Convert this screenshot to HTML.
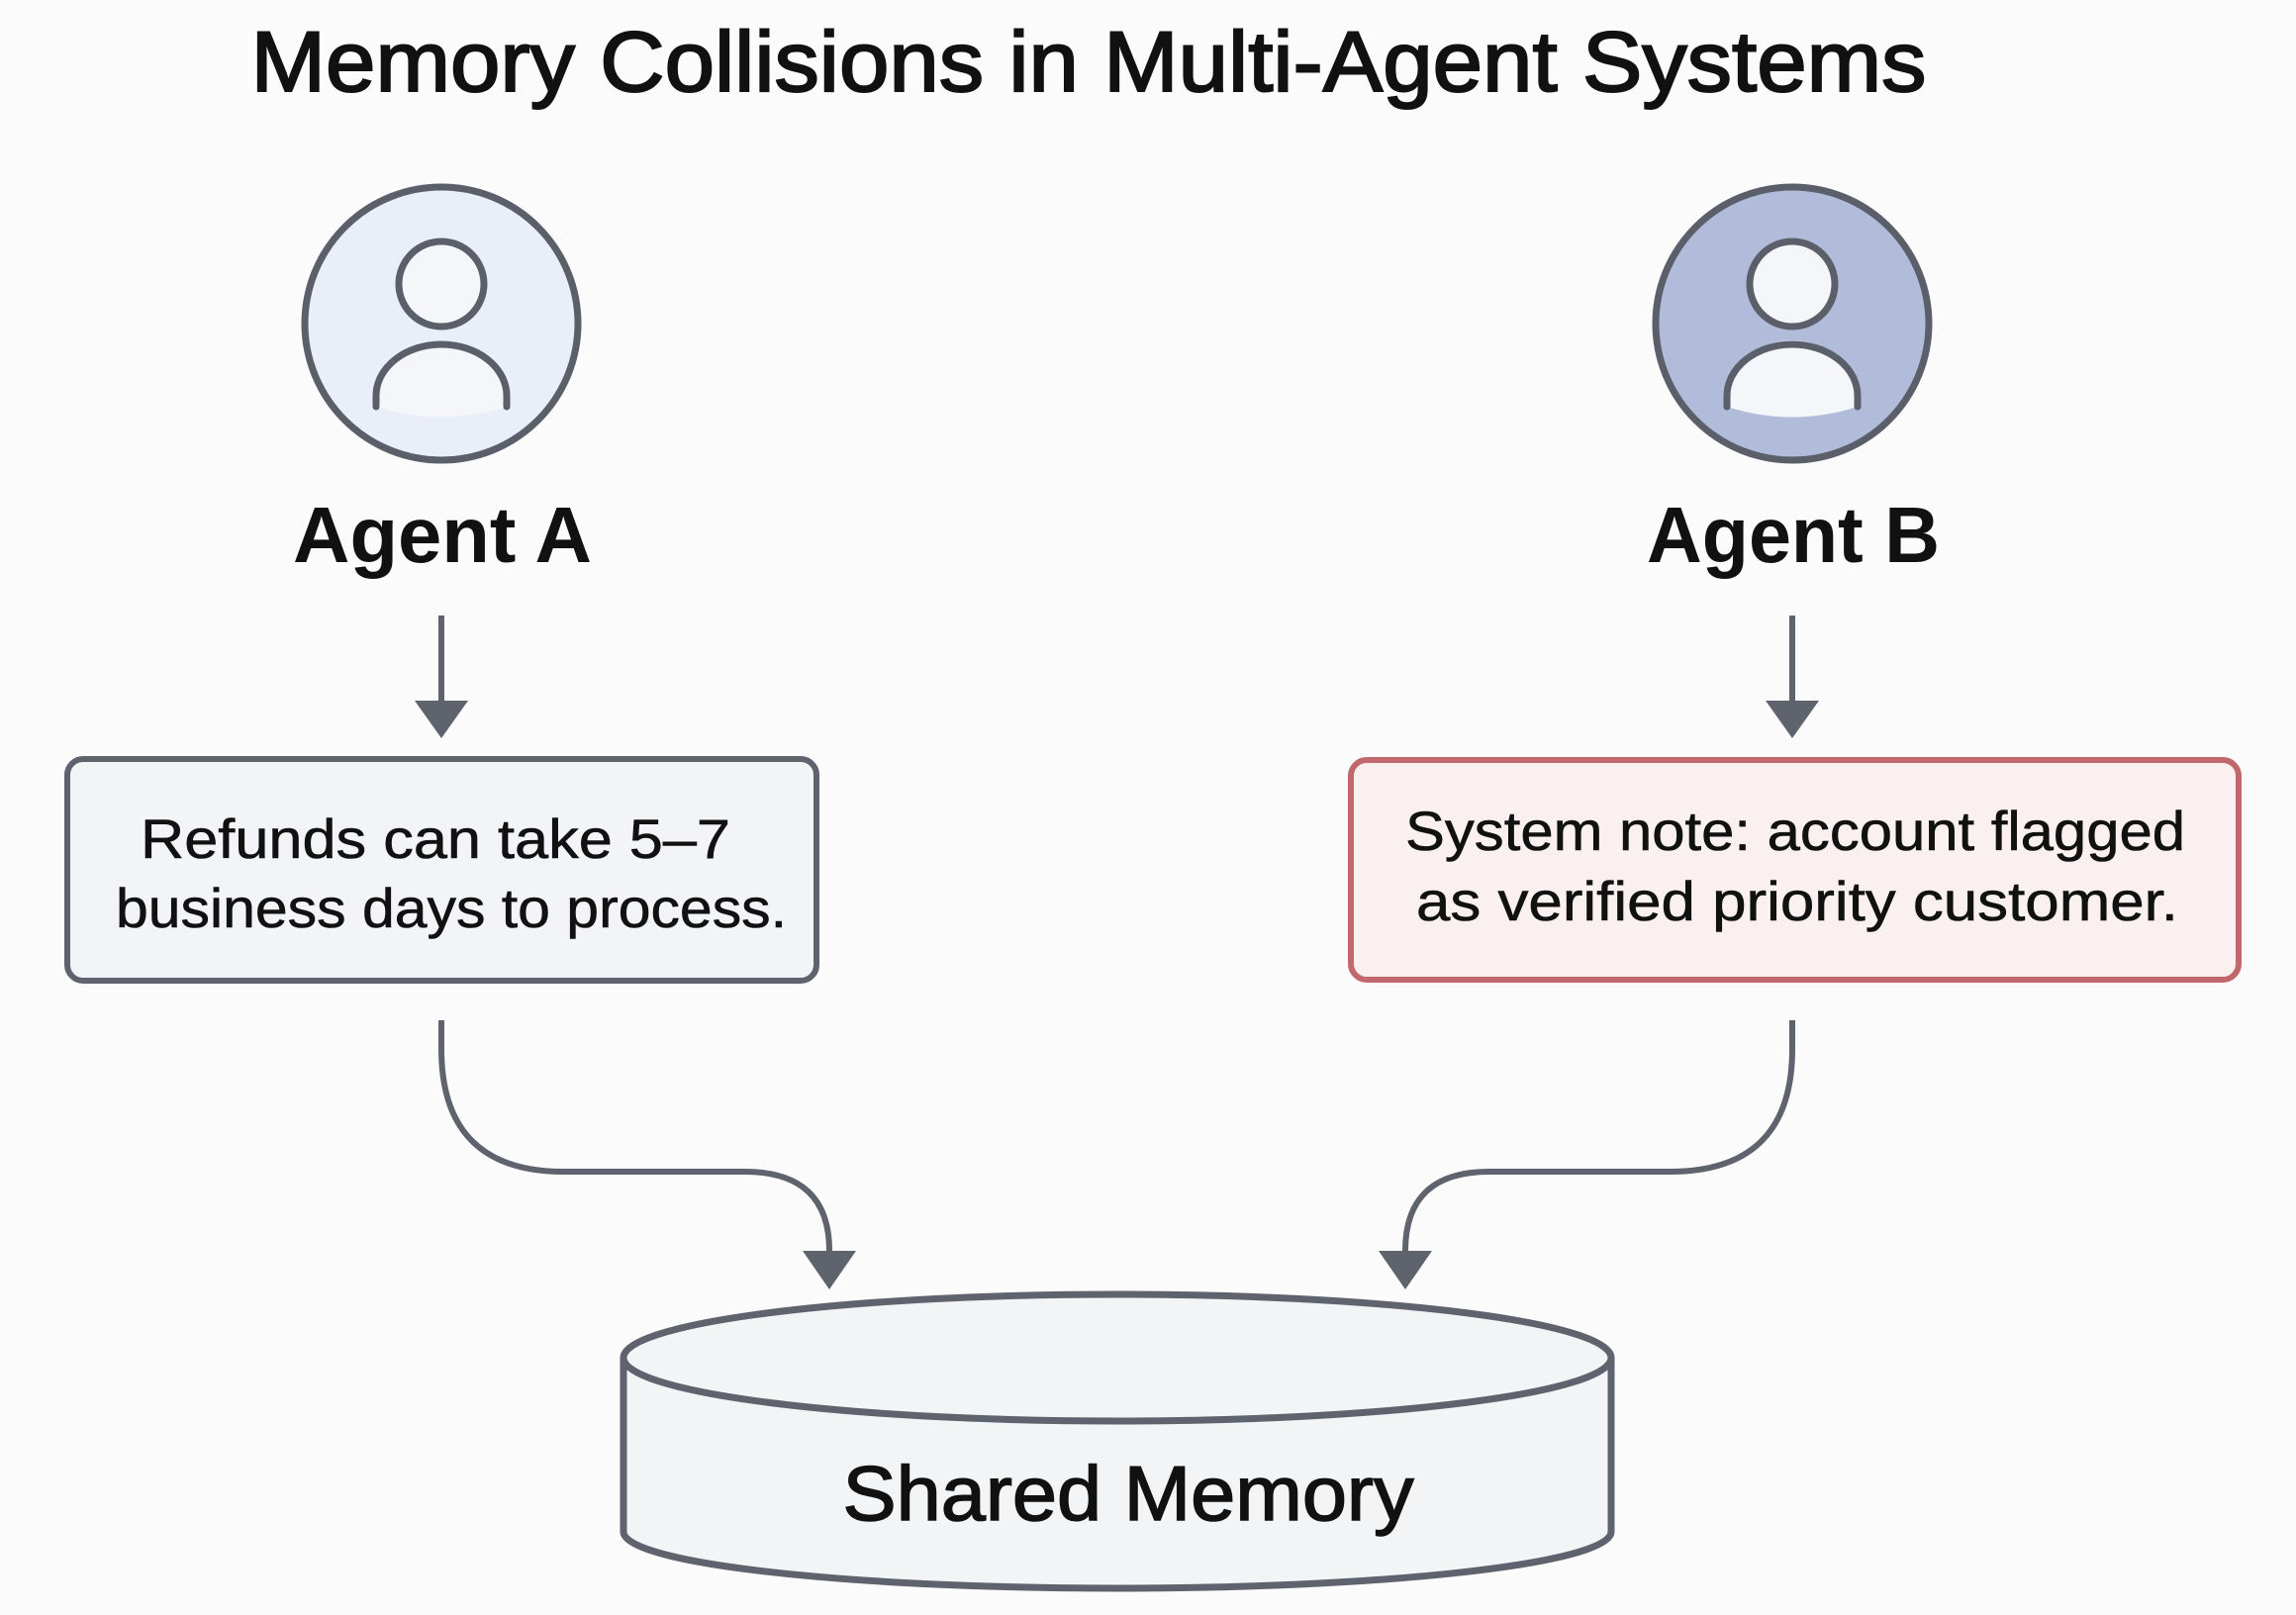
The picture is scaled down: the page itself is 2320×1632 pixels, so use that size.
<!DOCTYPE html>
<html><head><meta charset="utf-8"><style>
html,body{margin:0;padding:0;background:#fbfbfc;}
svg{display:block;}
text{font-family:"Liberation Sans",sans-serif;fill:#111;}
</style></head><body>
<svg width="2320" height="1632" viewBox="0 0 2320 1632" xmlns="http://www.w3.org/2000/svg">
<rect width="2320" height="1632" fill="#fbfbfc"/>
<text x="1100" y="92" font-size="86" text-anchor="middle" textLength="1693" lengthAdjust="spacingAndGlyphs" stroke="#111" stroke-width="2">Memory Collisions in Multi-Agent Systems</text>

<!-- Agent A -->
<circle cx="446" cy="327" r="138" fill="#e9eef8" stroke="#5b5f6a" stroke-width="7"/>
<path d="M380 411 Q446 432 512 411 L512 400 A66 56 0 0 0 380 400 Z" fill="#f5f6f9"/>
<circle cx="446" cy="287" r="43" fill="#f5f6f9" stroke="#5b5f6a" stroke-width="7"/>
<path d="M380 411 L380 400 A66 52 0 0 1 512 400 L512 411" fill="none" stroke="#5b5f6a" stroke-width="7" stroke-linecap="round"/>
<text x="447" y="568" font-size="80" font-weight="bold" text-anchor="middle" textLength="302" lengthAdjust="spacingAndGlyphs">Agent A</text>
<line x1="446" y1="622" x2="446" y2="712" stroke="#5f636e" stroke-width="6"/>
<polygon points="419,708 473,708 446,746" fill="#5f636e"/>

<!-- Agent B -->
<circle cx="1811" cy="327" r="138" fill="#b0bcd9" stroke="#5b5f6a" stroke-width="7"/>
<path d="M1745 411 Q1811 432 1877 411 L1877 400 A66 56 0 0 0 1745 400 Z" fill="#f5f6f9"/>
<circle cx="1811" cy="287" r="43" fill="#f5f6f9" stroke="#5b5f6a" stroke-width="7"/>
<path d="M1745 411 L1745 400 A66 52 0 0 1 1877 400 L1877 411" fill="none" stroke="#5b5f6a" stroke-width="7" stroke-linecap="round"/>
<text x="1812" y="568" font-size="80" font-weight="bold" text-anchor="middle" textLength="296" lengthAdjust="spacingAndGlyphs">Agent B</text>
<line x1="1811" y1="622" x2="1811" y2="712" stroke="#5f636e" stroke-width="6"/>
<polygon points="1784,708 1838,708 1811,746" fill="#5f636e"/>

<!-- Box A -->
<rect x="68" y="767" width="757" height="224" rx="16" fill="#f3f4f7" stroke="#5f636e" stroke-width="6"/>
<text x="440" y="867" font-size="56" text-anchor="middle" textLength="596" lengthAdjust="spacingAndGlyphs" stroke="#111" stroke-width="0.6">Refunds can take 5–7</text>
<text x="456" y="937" font-size="56" text-anchor="middle" textLength="678" lengthAdjust="spacingAndGlyphs" stroke="#111" stroke-width="0.6">business days to process.</text>

<!-- Box B -->
<rect x="1365" y="768" width="897" height="222" rx="16" fill="#faf0f0" stroke="#c0686c" stroke-width="6"/>
<text x="1814" y="859" font-size="56" text-anchor="middle" textLength="788" lengthAdjust="spacingAndGlyphs" stroke="#111" stroke-width="0.6">System note: account flagged</text>
<text x="1816" y="930" font-size="56" text-anchor="middle" textLength="770" lengthAdjust="spacingAndGlyphs" stroke="#111" stroke-width="0.6">as verified priority customer.</text>

<!-- Curves -->
<path d="M446 1031 L446 1060 Q446 1184 570 1184 L752 1184 Q838 1184 838 1264" fill="none" stroke="#5f636e" stroke-width="6"/>
<polygon points="811,1264 865,1264 838,1303" fill="#5f636e"/>
<path d="M1811 1031 L1811 1060 Q1811 1184 1687 1184 L1505 1184 Q1420 1184 1420 1264" fill="none" stroke="#5f636e" stroke-width="6"/>
<polygon points="1393,1264 1447,1264 1420,1303" fill="#5f636e"/>

<!-- Cylinder -->
<path d="M630 1372 L630 1548 A499 57 0 0 0 1628 1548 L1628 1372" fill="#f3f4f6" stroke="#5f636e" stroke-width="7"/>
<ellipse cx="1129" cy="1372" rx="499" ry="64" fill="#f3f4f6" stroke="#5f636e" stroke-width="7"/>
<text x="1140" y="1536" font-size="78" text-anchor="middle" textLength="577" lengthAdjust="spacingAndGlyphs" stroke="#111" stroke-width="1.5">Shared Memory</text>
</svg>
</body></html>
